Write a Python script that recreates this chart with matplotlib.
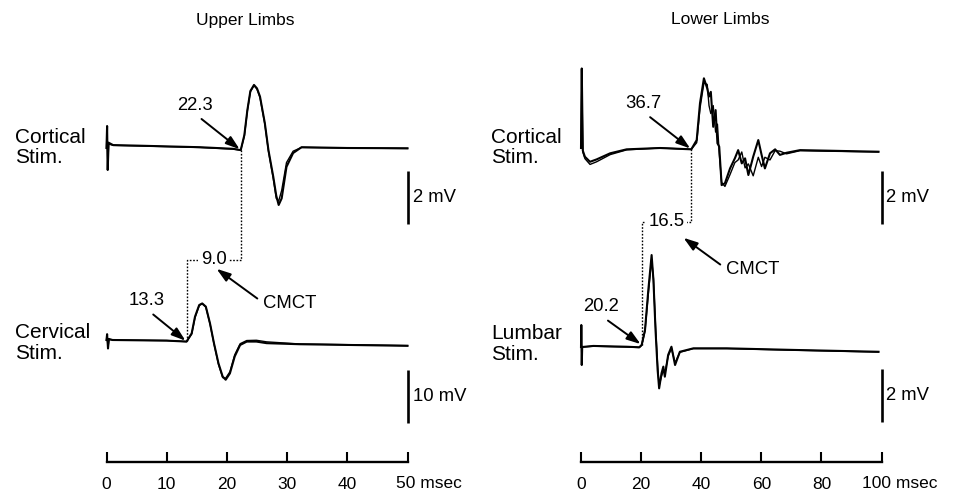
import numpy as np
import matplotlib.pyplot as plt

plt.rcParams['font.family'] = ['Liberation Sans', 'DejaVu Sans']
plt.rcParams['font.size'] = 12

W, H = 958, 493

# latencies (msec)
upper_cortical_lat = 22.3
upper_cervical_lat = 13.3
lower_cortical_lat = 36.7
lower_lumbar_lat = 20.2

# Upper limbs, cortical stimulation (msec, mV), two superimposed sweeps
uc_t = [0.0, 0.1, 0.2, 0.35, 1.1, 5.0, 15.5, 21.0, 22.3, 22.9, 23.4, 23.9, 24.5,
        25.0, 25.5, 26.3, 26.9, 27.7, 28.2, 28.6, 29.1, 29.9, 31.0, 32.4, 40.0, 50.0]
uc_a = [0.0, 0.83, -0.83, 0.2, 0.11, 0.09, 0.03, -0.03, -0.08, 0.49, 1.43, 2.15, 2.38,
        2.25, 1.94, 0.94, -0.08, -1.08, -1.8, -2.15, -1.9, -0.71, -0.19, 0.03, 0.0, -0.01]
uc_b = [0.0, 0.8, -0.8, 0.15, 0.1, 0.08, 0.02, -0.04, -0.08, 0.45, 1.4, 2.12, 2.36,
        2.22, 1.9, 0.9, -0.12, -1.15, -1.9, -2.0, -1.6, -0.55, -0.12, 0.02, 0.0, -0.02]

# Upper limbs, cervical stimulation
ucv_t = [0.0, 0.1, 0.25, 0.4, 1.0, 10.0, 13.3, 14.15, 14.7, 15.4, 15.9, 16.5, 17.2,
         17.85, 18.6, 19.3, 19.8, 20.5, 21.3, 22.2, 23.3, 24.9, 26.6, 32.1, 50.0]
ucv_a = [0.0, 1.1, -1.6, 0.2, 0.0, -0.12, -0.3, 1.26, 4.4, 6.6, 6.9, 6.3, 3.1,
         -0.6, -4.4, -6.9, -7.5, -6.3, -3.1, -0.94, -0.3, -0.3, -0.6, -0.8, -1.1]
ucv_b = [0.0, 1.0, -1.4, 0.1, 0.0, -0.1, -0.3, 1.1, 4.2, 6.5, 6.85, 6.2, 3.0,
         -0.7, -4.6, -7.1, -7.2, -6.0, -2.8, -0.7, -0.1, -0.05, -0.35, -0.75, -1.05]

# Lower limbs, cortical stimulation
lc_t = [0.0, 0.25, 0.6, 1.3, 3.0, 5.2, 9.7, 15.2, 26.3, 36.7, 38.5, 39.6, 40.9, 42.0,
        42.6, 43.2, 44.0, 44.8, 45.4, 46.0, 46.8, 47.9, 49.6, 51.2, 52.3, 53.5, 54.6,
        55.7, 57.3, 59.0, 60.1, 61.2, 62.9, 64.6, 66.2, 68.4, 72.9, 81.8, 99.0]
lc_a = [0.0, 3.0, -0.1, -0.33, -0.52, -0.43, -0.2, -0.05, 0.0, -0.05, 0.3, 1.69, 2.63, 2.25,
        1.94, 2.12, 0.8, 1.43, 0.18, 0.05, -1.4, -1.33, -0.77, -0.39, -0.08, -0.58, -0.39,
        -1.02, -0.33, 0.3, -0.26, -0.77, -0.2, -0.05, -0.26, -0.18, -0.08, -0.1, -0.14]
lc_b = [0.0, 3.0, -0.15, -0.4, -0.62, -0.52, -0.25, -0.07, 0.0, -0.05, 0.2, 1.5, 2.45, 2.4,
        1.6, 1.3, 1.6, 0.6, 0.9, -0.2, -1.3, -1.45, -1.0, -0.55, -0.45, -0.15, -0.75,
        -0.6, -1.05, -0.35, -0.7, -0.35, -0.45, -0.1, -0.12, -0.22, -0.1, -0.12, -0.15]

# Lower limbs, lumbar stimulation
ll_t = [0.0, 0.1, 0.25, 0.4, 4.1, 15.2, 19.4, 20.2, 21.3, 22.4, 23.5, 24.1, 24.8,
        25.5, 26.0, 26.8, 27.4, 27.9, 29.0, 30.1, 31.3, 32.9, 37.4, 48.5, 70.6, 99.0]
ll_a = [0.0, 0.83, -0.68, 0.0, 0.04, 0.01, -0.01, 0.08, 0.64, 2.15, 3.47, 2.53, 0.64,
        -0.87, -1.56, -0.99, -0.74, -1.12, -0.3, 0.01, -0.68, -0.18, -0.05, -0.05, -0.11, -0.18]
ll_b = [0.0, 0.8, -0.65, 0.0, 0.03, 0.0, -0.02, 0.06, 0.6, 2.0, 3.3, 2.6, 0.8,
        -0.7, -1.45, -1.1, -0.9, -1.0, -0.35, -0.05, -0.6, -0.2, -0.06, -0.06, -0.12, -0.19]

upper_ticks = [0, 10, 20, 30, 40, 50]
lower_ticks = [0, 20, 40, 60, 80, 100]

LABEL_FS = 15
NUM_FS = 13.3
TICK_FS = 12.5

fig = plt.figure(figsize=(W / 100, H / 100), dpi=100)


def trace_axes(x0, x1, xmax, zero_row, px_per_mv):
    # full-height axes, x in msec, y in mV
    ax = fig.add_axes([x0 / W, 0, (x1 - x0) / W, 1])
    ax.set_xlim(0, xmax)
    ax.set_ylim((zero_row - H) / px_per_mv, zero_row / px_per_mv)
    ax.axis('off')
    return ax


def row_axes(x0, x1, xmax):
    # full-height overlay, x in msec, y in pixel rows
    ax = fig.add_axes([x0 / W, 0, (x1 - x0) / W, 1])
    ax.set_xlim(0, xmax)
    ax.set_ylim(H, 0)
    ax.axis('off')
    return ax


def draw_trace(ax, t, a, b):
    ax.plot(t, a, color='black', lw=1.5, clip_on=False)
    ax.plot(t, b, color='black', lw=1.0, clip_on=False)


def scale_bar(ax, x, top, size, label):
    ax.plot([x, x], [top, top - size], color='black', lw=1.9, clip_on=False,
            solid_capstyle='butt')
    ax.annotate(label, xy=(x, top - size / 2), xytext=(5, 0), textcoords='offset pixels',
                ha='left', va='center', fontsize=NUM_FS, annotation_clip=False)


arrow = dict(arrowstyle='-|>,head_length=0.6,head_width=0.2', color='black',
             lw=1.4, mutation_scale=14, shrinkA=3, shrinkB=1)


def latency_label(ax, lat, t, a, dx, dy):
    ax.annotate(f'{lat:.1f}', xy=(lat, np.interp(lat, t, a)), xytext=(dx, dy),
                textcoords='offset pixels', ha='center', va='center', fontsize=NUM_FS,
                arrowprops=dict(arrow, relpos=(0.5, 0)), annotation_clip=False)


def time_axis(x0, x1, ticks, last_dx):
    ax = fig.add_axes([x0 / W, 1 - 462 / H, (x1 - x0) / W, 0.001])
    ax.set_xlim(ticks[0], ticks[-1])
    ax.set_yticks([])
    for s in ['top', 'left', 'right']:
        ax.spines[s].set_visible(False)
    ax.spines['bottom'].set_linewidth(1.7)
    ax.set_xticks(ticks, [str(v) for v in ticks[:-1]] + [''])
    ax.tick_params(axis='x', direction='in', length=7.5, width=1.5, pad=10.5,
                   labelsize=TICK_FS)
    # last label carries the unit
    ax.annotate(f'{ticks[-1]} msec', xy=(ticks[-1], 0), xycoords=('data', 'axes fraction'),
                xytext=(last_dx, -22), textcoords='offset pixels',
                ha='left', va='center', fontsize=TICK_FS, annotation_clip=False)
    ax.patch.set_visible(False)


def bracket(ax_rows, lat_top, row_top, lat_bot, row_bot, level, head_dx, head_dy, cm_dx, cm_dy):
    dots = dict(color='black', lw=1.0, linestyle=(0, (1.2, 1.2)))
    ax_rows.plot([lat_top, lat_top, lat_bot, lat_bot], [row_top, level, level, row_bot], **dots)
    mid = (lat_top + lat_bot) / 2
    ax_rows.text(mid, level, f'{lat_top - lat_bot:.1f}', ha='center', va='center',
                 fontsize=NUM_FS, bbox=dict(fc='white', ec='none', pad=2.0))
    ax_rows.annotate('CMCT', xy=(mid + head_dx, level + head_dy), xytext=(cm_dx, cm_dy),
                     textcoords='offset pixels', ha='left', va='center', fontsize=NUM_FS,
                     arrowprops=dict(arrow, relpos=(0, 0.5)))


# ---------------- Upper limbs ----------------
UX0, UX1 = 106.5, 407.5
ax_uc = trace_axes(UX0, UX1, 50, 148, 26.5)
ax_ucv = trace_axes(UX0, UX1, 50, 340, 5.3)
ax_ur = row_axes(UX0, UX1, 50)

draw_trace(ax_uc, uc_t, uc_a, uc_b)
draw_trace(ax_ucv, ucv_t, ucv_a, ucv_b)
scale_bar(ax_uc, 50.1, -0.87, 2, '2 mV')
scale_bar(ax_ucv, 50.1, -5.66, 10, '10 mV')
latency_label(ax_uc, upper_cortical_lat, uc_t, uc_a, -46, 45)
latency_label(ax_ucv, upper_cervical_lat, ucv_t, ucv_a, -40, 41)

r_top = 148 - 26.5 * np.interp(upper_cortical_lat, uc_t, uc_a)
r_bot = 340 - 5.3 * np.interp(upper_cervical_lat, ucv_t, ucv_a)
bracket(ax_ur, upper_cortical_lat, r_top, upper_cervical_lat, r_bot, 260,
        0.3, 8, 48, -35)
time_axis(UX0, UX1, upper_ticks, -11)

fig.text(245 / W, 1 - 20 / H, 'Upper Limbs', ha='center', va='center', fontsize=12.5)
fig.text(15 / W, 1 - 147.5 / H, 'Cortical\nStim.', ha='left', va='center',
         fontsize=LABEL_FS, linespacing=1.1)
fig.text(15 / W, 1 - 343 / H, 'Cervical\nStim.', ha='left', va='center',
         fontsize=LABEL_FS, linespacing=1.1)

# ---------------- Lower limbs ----------------
LX0, LX1 = 581, 881.5
ax_lc = trace_axes(LX0, LX1, 100, 148, 26.5)
ax_ll = trace_axes(LX0, LX1, 100, 347, 26.5)
ax_lr = row_axes(LX0, LX1, 100)

draw_trace(ax_lc, lc_t, lc_a, lc_b)
draw_trace(ax_ll, ll_t, ll_a, ll_b)
scale_bar(ax_lc, 100, -0.87, 2, '2 mV')
scale_bar(ax_ll, 100, -0.83, 2, '2 mV')
latency_label(ax_lc, lower_cortical_lat, lc_t, lc_a, -48, 46)
latency_label(ax_ll, lower_lumbar_lat, ll_t, ll_a, -41, 38)

r_top = 148 - 26.5 * np.interp(lower_cortical_lat, lc_t, lc_a)
r_bot = 347 - 26.5 * np.interp(lower_lumbar_lat, ll_t, ll_a)
bracket(ax_lr, lower_cortical_lat, r_top, lower_lumbar_lat, r_bot, 222,
        5.3, 15, 44, -32)
time_axis(LX0, LX1, lower_ticks, -20)

fig.text(720 / W, 1 - 20 / H, 'Lower Limbs', ha='center', va='center', fontsize=12.5)
fig.text(491 / W, 1 - 147.5 / H, 'Cortical\nStim.', ha='left', va='center',
         fontsize=LABEL_FS, linespacing=1.1)
fig.text(491 / W, 1 - 344 / H, 'Lumbar\nStim.', ha='left', va='center',
         fontsize=LABEL_FS, linespacing=1.1)

plt.savefig('out.png', dpi=100)
